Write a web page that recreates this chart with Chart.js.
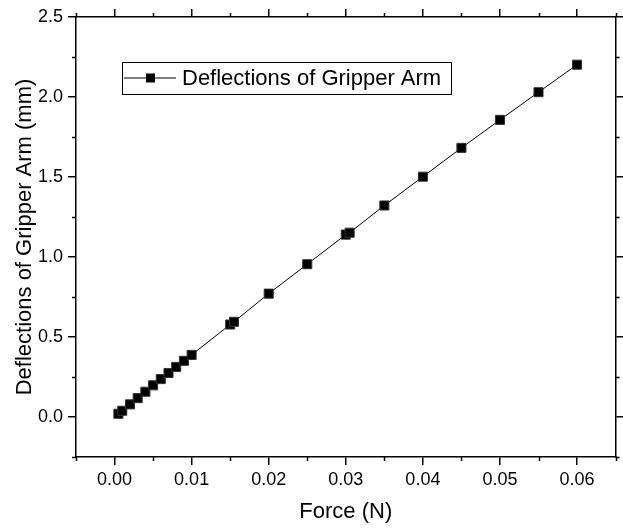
<!DOCTYPE html>
<html>
<head>
<meta charset="utf-8">
<script src="https://cdn.jsdelivr.net/npm/chart.js@4.4.1/dist/chart.umd.min.js"></script>
<style>
body{margin:0;background:#fff;}
#wrap{width:623px;height:528px;}
</style>
</head>
<body>
<div id="wrap"><canvas id="defl" width="623" height="528"></canvas></div>
<script>
// values
const force = [0.0005, 0.001, 0.002, 0.003, 0.004, 0.005, 0.006, 0.007, 0.008, 0.009, 0.01,
  0.015, 0.0155, 0.02, 0.025, 0.03, 0.0305, 0.035, 0.04, 0.045, 0.05, 0.055, 0.06];
const deflection = [0.020, 0.039, 0.079, 0.118, 0.158, 0.198, 0.237, 0.275, 0.313, 0.351, 0.388,
  0.578, 0.595, 0.771, 0.955, 1.140, 1.152, 1.322, 1.502, 1.682, 1.857, 2.030, 2.202];
const xTicks = [0, 0.01, 0.02, 0.03, 0.04, 0.05, 0.06];
const xMinor = [-0.005, 0.005, 0.015, 0.025, 0.035, 0.045, 0.055, 0.065];
const yTicks = [0, 0.5, 1.0, 1.5, 2.0, 2.5];
const yMinor = [-0.25, 0.25, 0.75, 1.25, 1.75, 2.25];
const seriesName = "Deflections of Gripper Arm";

const fnt = "'Liberation Sans', Arial, sans-serif";

function setTicks(arr){
  return function(scale){ scale.ticks = arr.map(v => ({value: v})); };
}

// short minor ticks on all four sides
const minorTicks = {
  id: 'minorTicks',
  afterDraw(chart){
    const c = chart.ctx, a = chart.chartArea;
    const xs = chart.scales.x, ys = chart.scales.y;
    c.save();
    c.strokeStyle = '#000';
    c.lineWidth = 1.5;
    c.beginPath();
    xMinor.forEach(v => {
      let px = Math.round(xs.getPixelForValue(v)) + 0.5;
      c.moveTo(px, a.bottom); c.lineTo(px, a.bottom + 4);
      c.moveTo(px, a.top); c.lineTo(px, a.top - 4);
    });
    yMinor.forEach(v => {
      let py = Math.round(ys.getPixelForValue(v)) + 0.5;
      c.moveTo(a.left, py); c.lineTo(a.left - 4, py);
      c.moveTo(a.right, py); c.lineTo(a.right + 4, py);
    });
    c.stroke();
    c.restore();
  }
};

// boxed legend inside the plot, like the origin one
const boxLegend = {
  id: 'boxLegend',
  afterDraw(chart){
    const c = chart.ctx;
    const ds = chart.data.datasets[0];
    let x0 = 122, y0 = 62, w = 329, h = 32, my = y0 + h/2;
    c.save();
    c.fillStyle = '#fff';
    c.fillRect(x0, y0, w, h);
    c.strokeStyle = '#000';
    c.lineWidth = 1;
    c.strokeRect(x0 + 0.5, y0 + 0.5, w, h);
    c.strokeStyle = ds.borderColor;
    c.beginPath();
    c.moveTo(x0 + 2, my); c.lineTo(x0 + 54, my);
    c.stroke();
    c.fillStyle = ds.pointBackgroundColor;
    c.fillRect(x0 + 24, my - 4.5, 9, 9);
    c.fillStyle = '#000';
    c.font = "22px " + fnt;
    c.textBaseline = 'middle';
    c.fillText(ds.label, x0 + 60, my + 1);
    c.restore();
  }
};

new Chart(document.getElementById('defl'), {
  type: 'line',
  data: {
    datasets: [{
      label: seriesName,
      data: force.map((f, i) => ({x: f, y: deflection[i]})),
      borderColor: '#000',
      borderWidth: 1,
      pointStyle: 'rect',
      pointRadius: 6.4,
      pointBackgroundColor: '#000',
      pointBorderColor: '#333',
      pointBorderWidth: 1,
      fill: false,
      tension: 0
    }]
  },
  options: {
    responsive: false,
    animation: false,
    layout: {padding: 0},
    plugins: {
      legend: {display: false},
      tooltip: {enabled: false}
    },
    scales: {
      x: {
        type: 'linear',
        position: 'bottom',
        min: -0.005, max: 0.065,
        afterBuildTicks: setTicks(xTicks),
        afterFit(s){ s.height = 71; },
        grid: {drawOnChartArea: false, tickLength: 8, color: '#000', lineWidth: 1.5},
        border: {display: true, color: '#000', width: 1.5},
        ticks: {color: '#000', font: {family: fnt, size: 18}, padding: 4,
          callback: v => v.toFixed(2)},
        title: {display: true, text: 'Force (N)', color: '#000',
          font: {family: fnt, size: 22}, padding: {top: 0, bottom: 3}}
      },
      x2: {
        type: 'linear',
        position: 'top',
        min: -0.005, max: 0.065,
        afterBuildTicks: setTicks(xTicks),
        afterFit(s){ s.height = 17; },
        grid: {drawOnChartArea: false, tickLength: 8, color: '#000', lineWidth: 1.5},
        border: {display: true, color: '#000', width: 1.5},
        ticks: {display: false}
      },
      y: {
        type: 'linear',
        position: 'left',
        min: -0.25, max: 2.5,
        afterBuildTicks: setTicks(yTicks),
        afterFit(s){ s.width = 76; },
        grid: {drawOnChartArea: false, tickLength: 8, color: '#000', lineWidth: 1.5},
        border: {display: true, color: '#000', width: 1.5},
        ticks: {color: '#000', font: {family: fnt, size: 18}, padding: 5,
          callback: v => v.toFixed(1)},
        title: {display: true, text: 'Deflections of Gripper Arm (mm)', color: '#000',
          font: {family: fnt, size: 22}, padding: {top: 12, bottom: 0}}
      },
      y2: {
        type: 'linear',
        position: 'right',
        min: -0.25, max: 2.5,
        afterBuildTicks: setTicks(yTicks),
        afterFit(s){ s.width = 4; },
        grid: {drawOnChartArea: false, tickLength: 8, color: '#000', lineWidth: 1.5},
        border: {display: true, color: '#000', width: 1.5},
        ticks: {display: false}
      }
    }
  },
  plugins: [minorTicks, boxLegend]
});
</script>
</body>
</html>
